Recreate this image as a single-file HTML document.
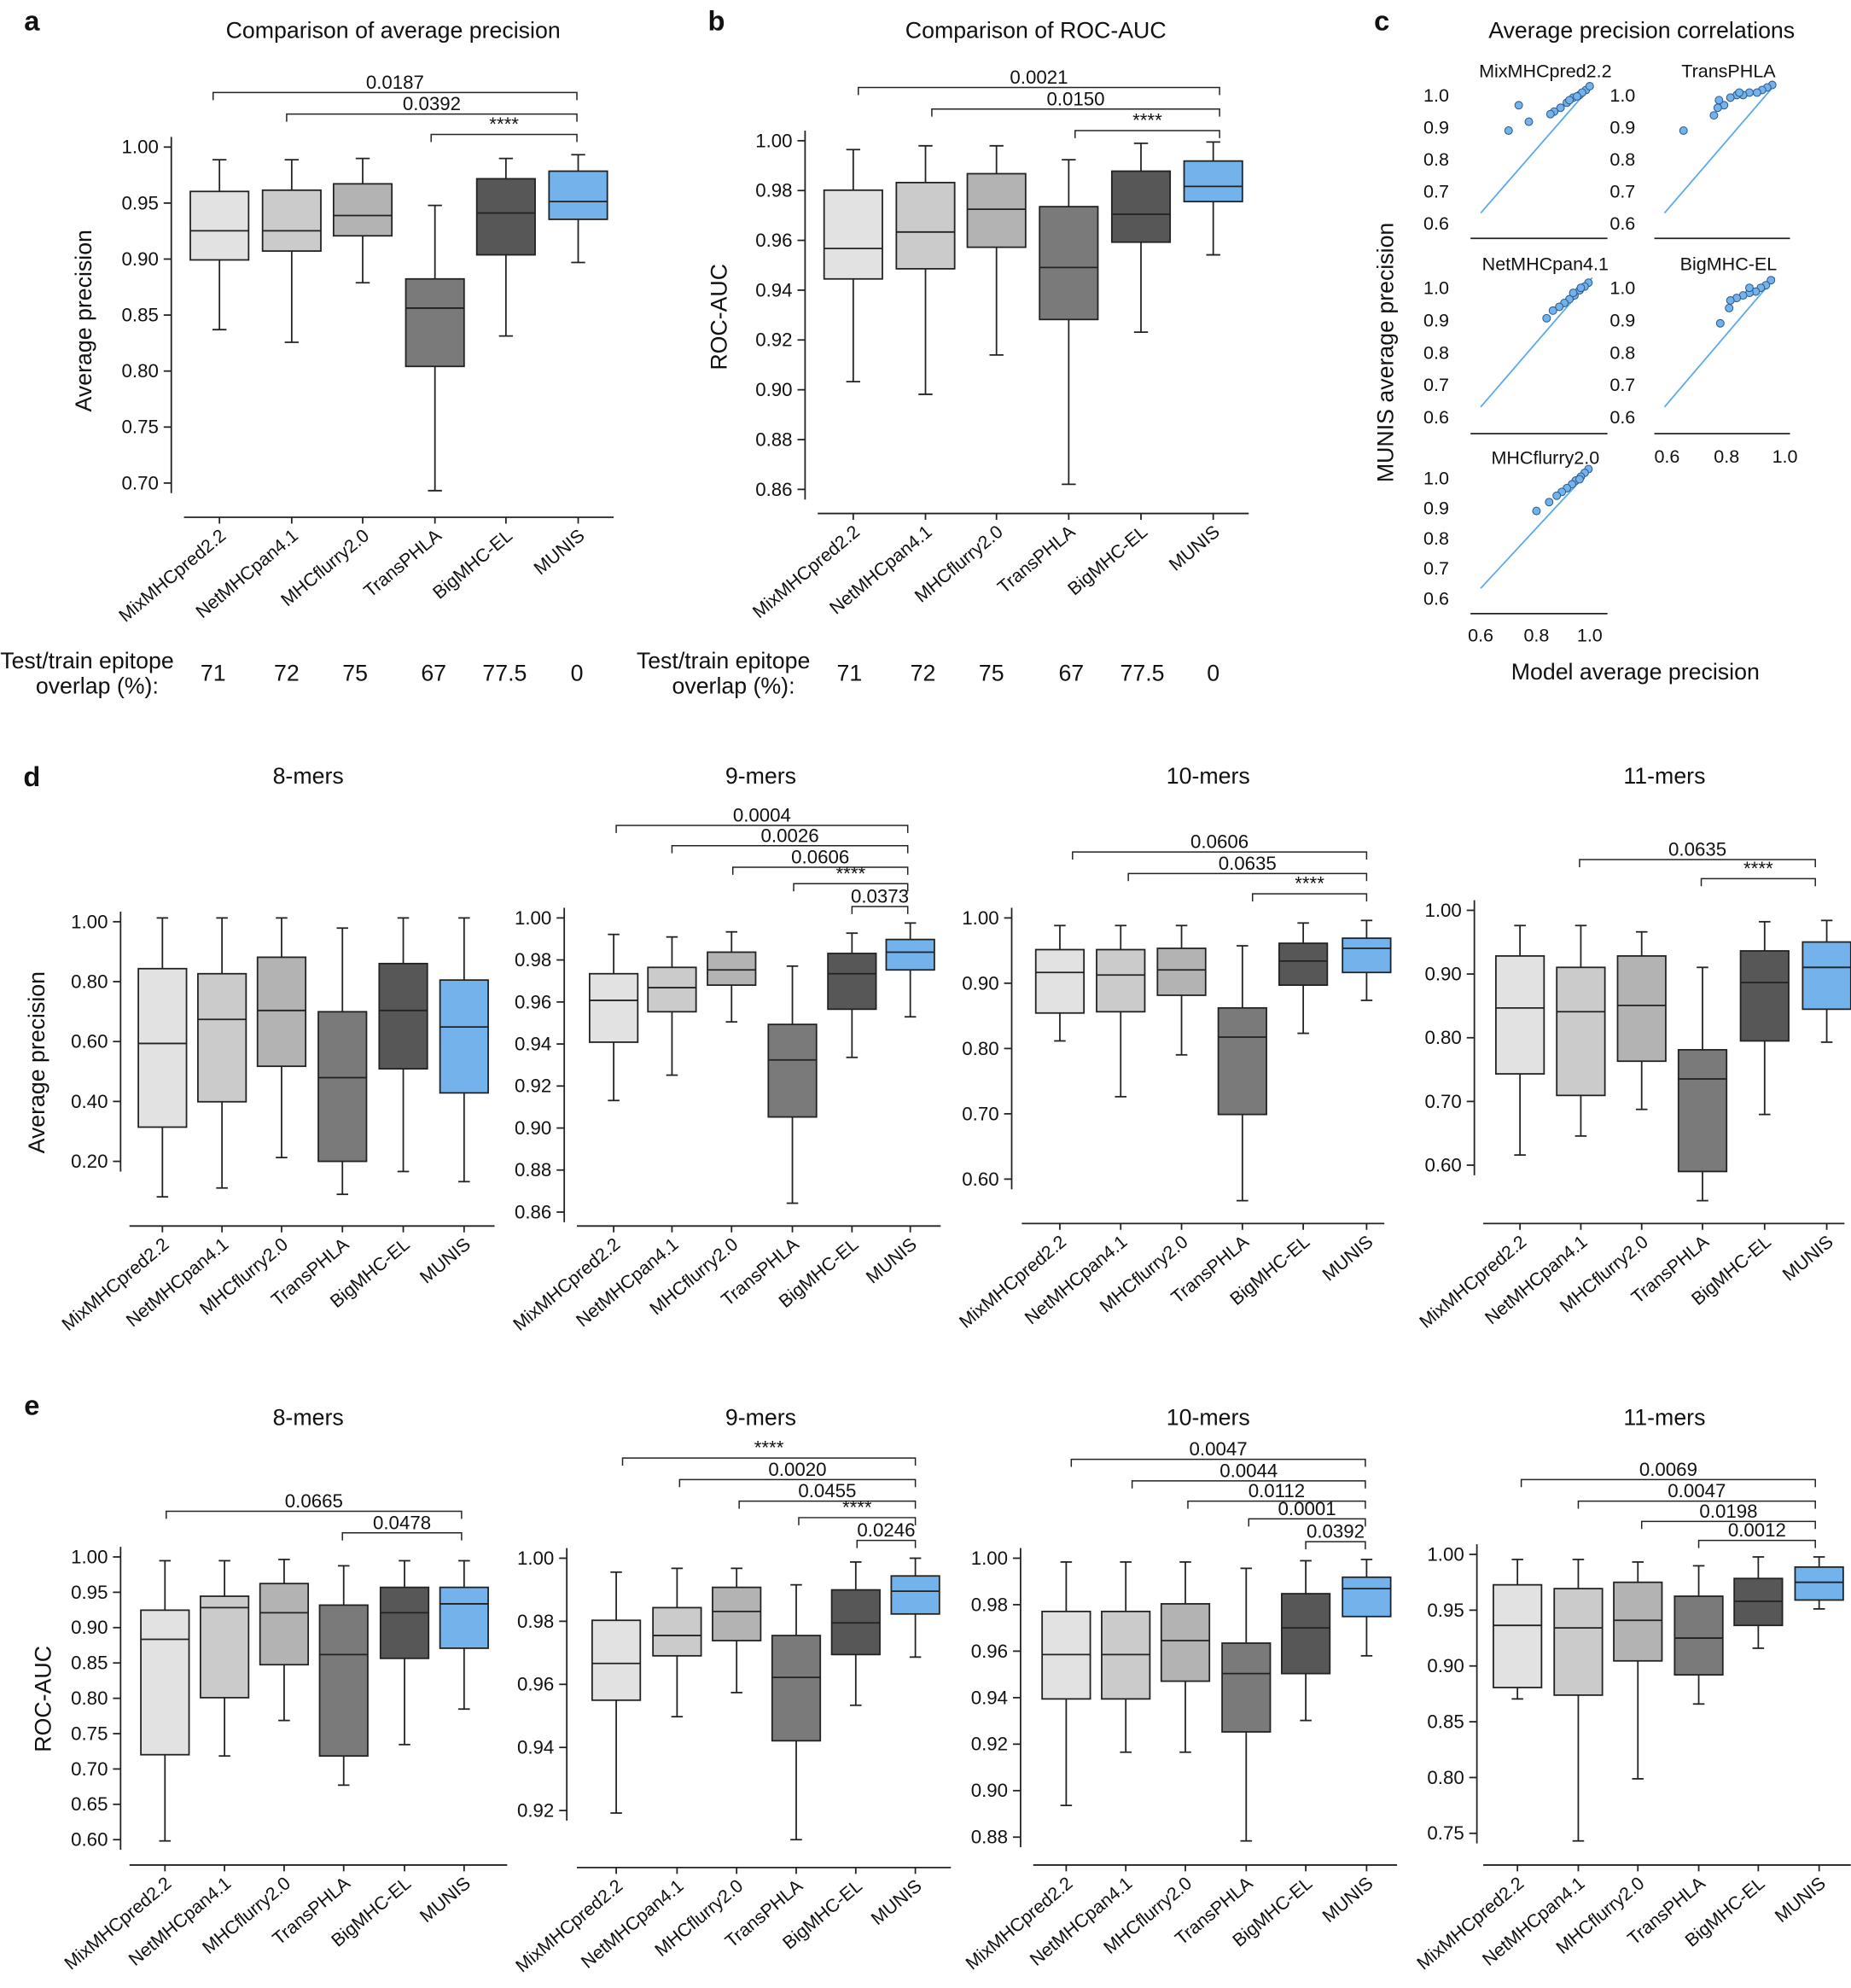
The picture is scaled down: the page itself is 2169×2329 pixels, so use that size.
<!DOCTYPE html>
<html><head><meta charset="utf-8"><style>
html,body{margin:0;padding:0;background:#fff}
svg{display:block}
text{font-family:"Liberation Sans",sans-serif;fill:#111}
</style></head><body>
<svg id="s" xmlns="http://www.w3.org/2000/svg" width="2169" height="2329" viewBox="0 0 1460 1568"></svg>
<script>
const S=document.getElementById('s');
const NS='http://www.w3.org/2000/svg';
function el(t,a,txt){const e=document.createElementNS(NS,t);for(const k in a)e.setAttribute(k,a[k]);if(txt!==undefined)e.textContent=txt;S.appendChild(e);return e;}
function T(x,y,s,opt){opt=opt||{};return el('text',Object.assign({x:x,y:y,'font-size':opt.fs||15,'text-anchor':opt.a||'middle'},opt.at||{}),s);}
function L(x1,y1,x2,y2,w){el('line',{x1,y1,x2,y2,stroke:'#222','stroke-width':w||1.2});}
const COLS=['#e2e2e2','#cbcbcb','#b3b3b3','#7a7a7a','#575757','#74b2ec'];
const NAMES=['MixMHCpred2.2','NetMHCpan4.1','MHCflurry2.0','TransPHLA','BigMHC-EL','MUNIS'];
function panel(p){
  const tk=p.ticks; const y0=p.t0,y1=p.t1,n=tk.length;
  L(p.ax,y0-8,p.ax,y1+8);
  tk.forEach((t,i)=>{const y=y0+(y1-y0)*i/(n-1);L(p.ax-6,y,p.ax,y);T(p.ax-10,y+5,t,{a:'end'});});
  L(p.bx0,p.by,p.bx1,p.by);
  const w=p.w||38;
  p.c.forEach((cx,i)=>{
    const b=p.b[i];
    L(cx,b[0],cx,b[1]);L(cx,b[3],cx,b[4]);
    L(cx-w*0.12,b[0],cx+w*0.12,b[0]);L(cx-w*0.12,b[4],cx+w*0.12,b[4]);
    el('rect',{x:cx-w/2,y:b[1],width:w,height:b[3]-b[1],fill:COLS[i],stroke:'#222','stroke-width':1.2});
    L(cx-w/2,b[2],cx+w/2,b[2]);
    L(cx,p.by,cx,p.by+5);
    T(cx+6,p.by+16,NAMES[i],{a:'end',fs:14.5,at:{transform:`rotate(-40 ${cx+6} ${p.by+16})`}});
  });
  (p.br||[]).forEach(r=>{
    const [x1,x2,y,lab]=r;
    el('polyline',{points:`${x1},${y+6} ${x1},${y} ${x2},${y} ${x2},${y+6}`,fill:'none',stroke:'#222','stroke-width':1});
    T((x1+x2)/2,y-3,lab,{fs:15});
  });
  if(p.title)T(p.title[0],p.title[1],p.title[2],{fs:18});
  if(p.yl)T(0,0,p.yl[2],{fs:18,at:{transform:`translate(${p.yl[0]},${p.yl[1]}) rotate(-90)`}});
}
[['a',25,24],['b',565,24],['c',1090,24],['d',25,620],['e',25,1116]].forEach(l=>T(l[1],l[2],l[0],{fs:22,a:'middle',at:{'font-weight':'bold'}}));
panel({ax:135,t0:116,t1:381,ticks:['1.00','0.95','0.90','0.85','0.80','0.75','0.70'],bx0:145,bx1:484,by:408,w:46,
 c:[173,230,286,343,399,456],
 b:[[126,151,182,205,260],[126,150,182,198,270],[125,145,170,186,223],[162,220,243,289,387],[125,141,168,201,265],[122,135,159,173,207]],
 br:[[168,455,73,'0.0187'],[226,455,90,'0.0392'],[340,455,106,'****']],
 title:[310,30,'Comparison of average precision'],yl:[72,253,'Average precision']});
panel({ax:635,t0:111,t1:386,ticks:['1.00','0.98','0.96','0.94','0.92','0.90','0.88','0.86'],bx0:645,bx1:985,by:405,w:46,
 c:[673,730,786,843,900,957],
 b:[[118,150,196,220,301],[115,144,183,212,311],[115,137,165,195,280],[126,163,211,252,382],[113,135,169,191,262],[112,127,147,159,201]],
 br:[[677,962,69,'0.0021'],[735,962,86,'0.0150'],[848,962,103,'****']],
 title:[817,30,'Comparison of ROC-AUC'],yl:[573,250,'ROC-AUC']});
function tt(x0,xs,vals){T(x0,527,'Test/train epitope',{fs:18,a:'start'});T(x0+125,547,'overlap (%):',{fs:18,a:'end'});xs.forEach((x,i)=>T(x,537,vals[i],{fs:18}));}
const V=['71','72','75','67','77.5','0'];
tt(0,[168,226,280,342,398,455],V);tt(502,[670,728,782,845,901,957],V);
T(1295,30,'Average precision correlations',{fs:18});
T(0,0,'MUNIS average precision',{fs:18,at:{transform:'translate(1099,278) rotate(-90)'}});
T(1290,536,'Model average precision',{fs:18});
function sc(lx,x0,x1,yTop,yBot,lineY,title,ty,pts){
  ['1.0','0.9','0.8','0.7','0.6'].forEach((t,i)=>T(lx,yTop+(yBot-yTop)*i/4+5,t,{a:'end',fs:14.5}));
  L(x0,lineY,x1,lineY);
  T((x0+x1)/2+5,ty,title,{fs:14.5});
  const dx0=x0+8,dx1=x1-12;
  el('line',{x1:dx0,y1:yBot-8,x2:dx1,y2:yTop-8,stroke:'#5aa8ee','stroke-width':1.2});
  pts.forEach(p=>el('circle',{cx:dx1+p[0],cy:yTop-4+p[1],r:3,fill:'#74b2ec',stroke:'#2a5a8a','stroke-width':0.7}));
}
const P1=[[-50,25],[-5,0],[-10,4],[-15,6],[-20,10],[-25,14],[-30,17],[-33,19],[-2,-3],[-8,2],[-66,32],[-58,12],[-18,8],[-12,5]];
const P2=[[-3,0],[-6,3],[-10,6],[-14,10],[-18,13],[-22,16],[-26,19],[-31,22],[-36,28],[-15,8],[-9,4]];
sc(1143,1160,1268,75,176,188,'MixMHCpred2.2',61,P1);
sc(1290,1305,1412,75,176,188,'TransPHLA',61,[[-2,-4],[-6,-2],[-10,0],[-14,2],[-20,2],[-25,4],[-30,4],[-35,6],[-40,12],[-45,14],[-48,20],[-72,32],[-44,8],[-28,2]]);
sc(1143,1160,1268,227,329,342,'NetMHCpan4.1',213,P2);
sc(1290,1305,1412,227,329,342,'BigMHC-EL',213,[[-3,-2],[-7,2],[-11,4],[-15,7],[-20,8],[-25,10],[-30,12],[-35,14],[-36,20],[-43,32],[-20,4]]);
sc(1143,1160,1268,377,472,484,'MHCflurry2.0',366,[[-3,-3],[-6,0],[-9,3],[-13,6],[-16,9],[-20,12],[-24,15],[-28,18],[-34,23],[-44,30],[-10,5]]);
[['0.6',1315],['0.8',1362],['1.0',1408]].forEach(t=>T(t[1],365,t[0],{fs:14.5}));
[['0.6',1168],['0.8',1212],['1.0',1254]].forEach(t=>T(t[1],506,t[0],{fs:14.5}));
panel({ax:95,t0:727,t1:916,ticks:['1.00','0.80','0.60','0.40','0.20'],bx0:102,bx1:390,by:967,
 c:[128,175,222,270,318,366],
 b:[[724,764,823,889,944],[724,768,804,869,937],[724,755,797,841,913],[732,798,850,916,942],[724,760,797,843,924],[724,773,810,862,932]],
 title:[243,618,'8-mers'],yl:[35,838,'Average precision']});
panel({ax:445,t0:724,t1:956,ticks:['1.00','0.98','0.96','0.94','0.92','0.90','0.88','0.86'],bx0:455,bx1:742,by:967,
 c:[484,530,577,625,672,718],
 b:[[737,768,789,822,868],[739,763,779,798,848],[735,751,765,777,806],[762,808,836,881,949],[736,752,768,796,834],[728,741,751,765,802]],
 br:[[486,716,651,'0.0004'],[530,716,667,'0.0026'],[578,716,684,'0.0606'],[626,716,697,'****'],[672,716,715,'0.0373']],
 title:[600,618,'9-mers']});
panel({ax:798,t0:724,t1:930,ticks:['1.00','0.90','0.80','0.70','0.60'],bx0:806,bx1:1092,by:965,
 c:[836,884,932,980,1028,1078],
 b:[[730,749,767,799,821],[730,749,769,798,865],[730,748,765,785,832],[746,795,818,879,947],[728,744,758,777,815],[726,740,748,767,789]],
 br:[[846,1078,672,'0.0606'],[890,1078,689,'0.0635'],[988,1078,705,'****']],
 title:[953,618,'10-mers']});
panel({ax:1163,t0:718,t1:919,ticks:['1.00','0.90','0.80','0.70','0.60'],bx0:1170,bx1:1455,by:965,
 c:[1199,1247,1295,1343,1392,1441],
 b:[[730,754,795,847,911],[730,763,798,864,896],[735,754,793,837,875],[763,828,851,924,947],[727,750,775,821,879],[726,743,763,796,822]],
 br:[[1246,1432,678,'0.0635'],[1342,1432,693,'****']],
 title:[1313,618,'11-mers']});
panel({ax:95,t0:1228,t1:1451,ticks:['1.00','0.95','0.90','0.85','0.80','0.75','0.70','0.65','0.60'],bx0:102,bx1:400,by:1471,
 c:[130,177,224,271,319,366],
 b:[[1231,1270,1293,1384,1452],[1231,1259,1268,1339,1385],[1230,1249,1272,1313,1357],[1235,1266,1305,1385,1408],[1231,1252,1272,1308,1376],[1231,1252,1265,1300,1348]],
 br:[[131,364,1192,'0.0665'],[270,364,1209,'0.0478']],
 title:[243,1124,'8-mers'],yl:[40,1340,'ROC-AUC']});
panel({ax:447,t0:1229,t1:1428,ticks:['1.00','0.98','0.96','0.94','0.92'],bx0:455,bx1:750,by:1473,
 c:[486,534,581,628,675,722],
 b:[[1240,1278,1312,1341,1430],[1237,1268,1290,1306,1354],[1237,1252,1271,1294,1335],[1250,1290,1323,1373,1451],[1232,1254,1280,1305,1345],[1229,1243,1255,1273,1307]],
 br:[[491,722,1150,'****'],[536,722,1167,'0.0020'],[583,722,1184,'0.0455'],[630,722,1197,'****'],[676,722,1215,'0.0246']],
 title:[600,1124,'9-mers']});
panel({ax:805,t0:1229,t1:1449,ticks:['1.00','0.98','0.96','0.94','0.92','0.90','0.88'],bx0:815,bx1:1102,by:1471,
 c:[841,888,935,983,1030,1078],
 b:[[1232,1271,1305,1340,1424],[1232,1271,1305,1340,1382],[1232,1265,1294,1326,1382],[1237,1296,1320,1366,1452],[1231,1257,1284,1320,1357],[1230,1244,1253,1275,1306]],
 br:[[845,1077,1151,'0.0047'],[893,1077,1168,'0.0044'],[937,1077,1184,'0.0112'],[985,1077,1198,'0.0001'],[1030,1077,1216,'0.0392']],
 title:[953,1124,'10-mers']});
panel({ax:1165,t0:1226,t1:1446,ticks:['1.00','0.95','0.90','0.85','0.80','0.75'],bx0:1170,bx1:1460,by:1471,
 c:[1197,1245,1292,1340,1387,1435],
 b:[[1230,1250,1282,1331,1340],[1230,1253,1284,1337,1452],[1232,1248,1278,1310,1403],[1235,1259,1292,1321,1344],[1228,1245,1263,1282,1300],[1228,1236,1248,1262,1269]],
 br:[[1200,1432,1167,'0.0069'],[1245,1432,1184,'0.0047'],[1295,1432,1200,'0.0198'],[1340,1432,1215,'0.0012']],
 title:[1313,1124,'11-mers']});
</script>
</body></html>
